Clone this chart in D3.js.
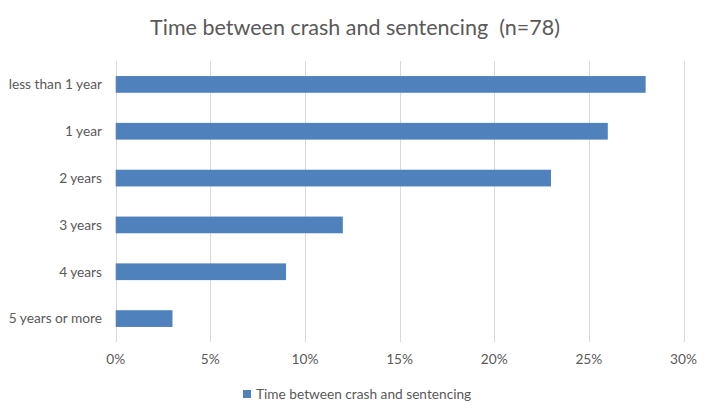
<!DOCTYPE html>
<html><head><meta charset="utf-8">
<script src="https://cdn.jsdelivr.net/npm/d3@7"></script>
<style>body{margin:0;background:#fff}svg{display:block}text{font-family:Lato,"Open Sans",sans-serif;white-space:pre}</style>
</head><body>
<svg id="chart" width="710" height="413"></svg>
<script>
const categories = ["less than 1 year","1 year","2 years","3 years","4 years","5 years or more"];
const values = [0.28,0.26,0.23,0.12,0.09,0.03];
const xTicks = [0,0.05,0.10,0.15,0.20,0.25,0.30];
const seriesName = "Time between crash and sentencing";
const title = "Time between crash and sentencing  (n=78)";

(function(){
const svg = d3.select("#chart");
const pL = 115.7, pR = 683.5, pT = 61, pB = 342;
const x = d3.scaleLinear().domain([0,0.30]).range([pL,pR]);
const y = d3.scaleBand().domain(categories).range([pT,pB]).paddingInner(0.643).paddingOuter(0.3215);
const col = "#4F81BD", txt = "#595959";

svg.append("text").attr("x",355).attr("y",35).attr("text-anchor","middle")
  .attr("font-size",21.5).attr("fill",txt).text(title);

svg.append("g").selectAll("line").data(xTicks).join("line")
  .attr("x1",d=>Math.round(x(d))+0.5).attr("x2",d=>Math.round(x(d))+0.5)
  .attr("y1",pT).attr("y2",pB).attr("stroke","#d9d9d9").attr("stroke-width",1);

svg.append("g").selectAll("rect").data(values).join("rect")
  .attr("x",x(0)).attr("y",(d,i)=>y(categories[i]))
  .attr("width",d=>x(d)-x(0)).attr("height",y.bandwidth()).attr("fill",col);

svg.append("g").selectAll("text").data(categories).join("text")
  .attr("x",102).attr("y",d=>y(d)+y.bandwidth()/2).attr("dy","0.35em")
  .attr("text-anchor","end").attr("font-size",13.7).attr("fill",txt).text(d=>d);

svg.append("g").selectAll("text").data(xTicks).join("text")
  .attr("x",d=>x(d)).attr("y",364).attr("text-anchor","middle")
  .attr("font-size",13.7).attr("fill",txt).text(d=>d3.format(".0%")(d));

const lg = svg.append("g");
lg.append("rect").attr("x",243).attr("y",390).attr("width",8).attr("height",8).attr("fill",col);
lg.append("text").attr("x",256).attr("y",398.5).attr("font-size",13.7).attr("fill",txt).text(seriesName);
})();
</script>
</body></html>
